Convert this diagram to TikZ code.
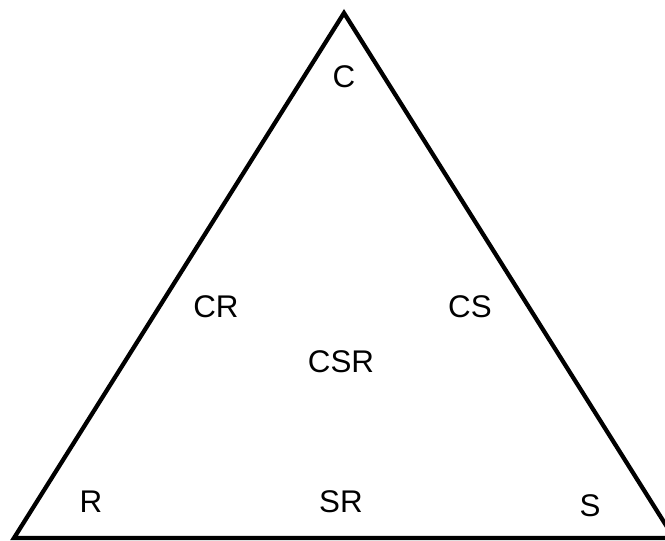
\documentclass[tikz,border=0pt]{standalone}
\usepackage{fontspec}
\setmainfont{Liberation Sans}
\begin{document}
\begin{tikzpicture}[x=0.75pt, y=-0.75pt,
    lbl/.style={font=\fontsize{23.5}{28}\selectfont, inner sep=0pt}]
    \useasboundingbox (0, 0) rectangle (665, 541);
    \coordinate (top) at (344, 13);
    \coordinate (left) at (14, 538);
    \coordinate (right) at (674, 538);
    \draw[line width=3.2pt, line join=miter] (top) -- (right) -- (left) -- cycle;
    \node[lbl] (c) at (344, 77) {C};
    \node[lbl] (cr) at (216, 307) {CR};
    \node[lbl] (cs) at (470, 307) {CS};
    \node[lbl] (csr) at (341, 362) {CSR};
    \node[lbl] (r) at (91, 502) {R};
    \node[lbl] (sr) at (341, 502) {SR};
    \node[lbl] (s) at (590, 506) {S};
\end{tikzpicture}
\end{document}
